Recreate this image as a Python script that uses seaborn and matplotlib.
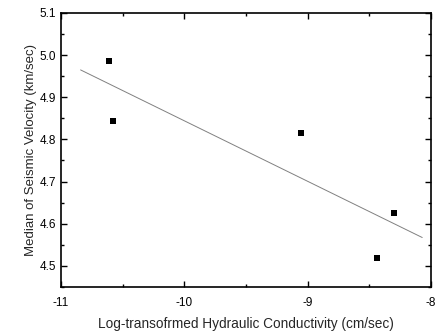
import numpy as np
import pandas as pd
import matplotlib
matplotlib.use("Agg")
import matplotlib.pyplot as plt
import seaborn as sns
from matplotlib.ticker import MultipleLocator

# Data
log_k = [-10.61, -10.58, -9.05, -8.44, -8.30]
velocity = [4.987, 4.843, 4.814, 4.518, 4.626]
fit_range = [-10.84, -8.07]
x_ticks = [-11, -10, -9, -8]
y_ticks = [4.5, 4.6, 4.7, 4.8, 4.9, 5.0, 5.1]

df = pd.DataFrame({"x": log_k, "y": velocity})

sns.set_style("ticks")
plt.rcParams['font.family'] = ['Liberation Sans', 'DejaVu Sans']

fig = plt.figure(figsize=(4.41, 3.31), dpi=100)
ax = fig.add_axes([0.138, 0.133, 0.839, 0.828])

# regression line over the drawn range
ax.set_xlim(*fit_range)
sns.regplot(data=df, x="x", y="y", ax=ax, ci=None, truncate=False,
            scatter=False, line_kws=dict(color="#808080", lw=0.7))
sns.scatterplot(data=df, x="x", y="y", ax=ax, marker="s", s=24,
                color="black", edgecolor="black", linewidth=0, zorder=3)

ax.set_xlim(-11, -8)
ax.set_ylim(4.45, 5.1)
ax.set_xticks(x_ticks)
ax.set_xticklabels([str(t) for t in x_ticks])
ax.set_yticks(y_ticks)
ax.set_yticklabels([f"{t:.1f}" for t in y_ticks])
ax.xaxis.set_minor_locator(MultipleLocator(0.5))
ax.yaxis.set_minor_locator(MultipleLocator(0.05))
ax.tick_params(which="both", direction="in", top=True, right=True,
               labelsize=8.5, colors="black", width=1)
ax.tick_params(axis="x", which="major", pad=7)
ax.tick_params(which="major", length=4)
ax.tick_params(which="minor", length=2)
for sp in ax.spines.values():
    sp.set_visible(True)
    sp.set_color("black")
    sp.set_linewidth(1.2)

ax.set_xlabel("Log-transofrmed Hydraulic Conductivity (cm/sec)", fontsize=9.8, labelpad=6)
ax.set_ylabel("Median of Seismic Velocity (km/sec)", fontsize=9.5, labelpad=2)

fig.savefig("out.png", dpi=100)
